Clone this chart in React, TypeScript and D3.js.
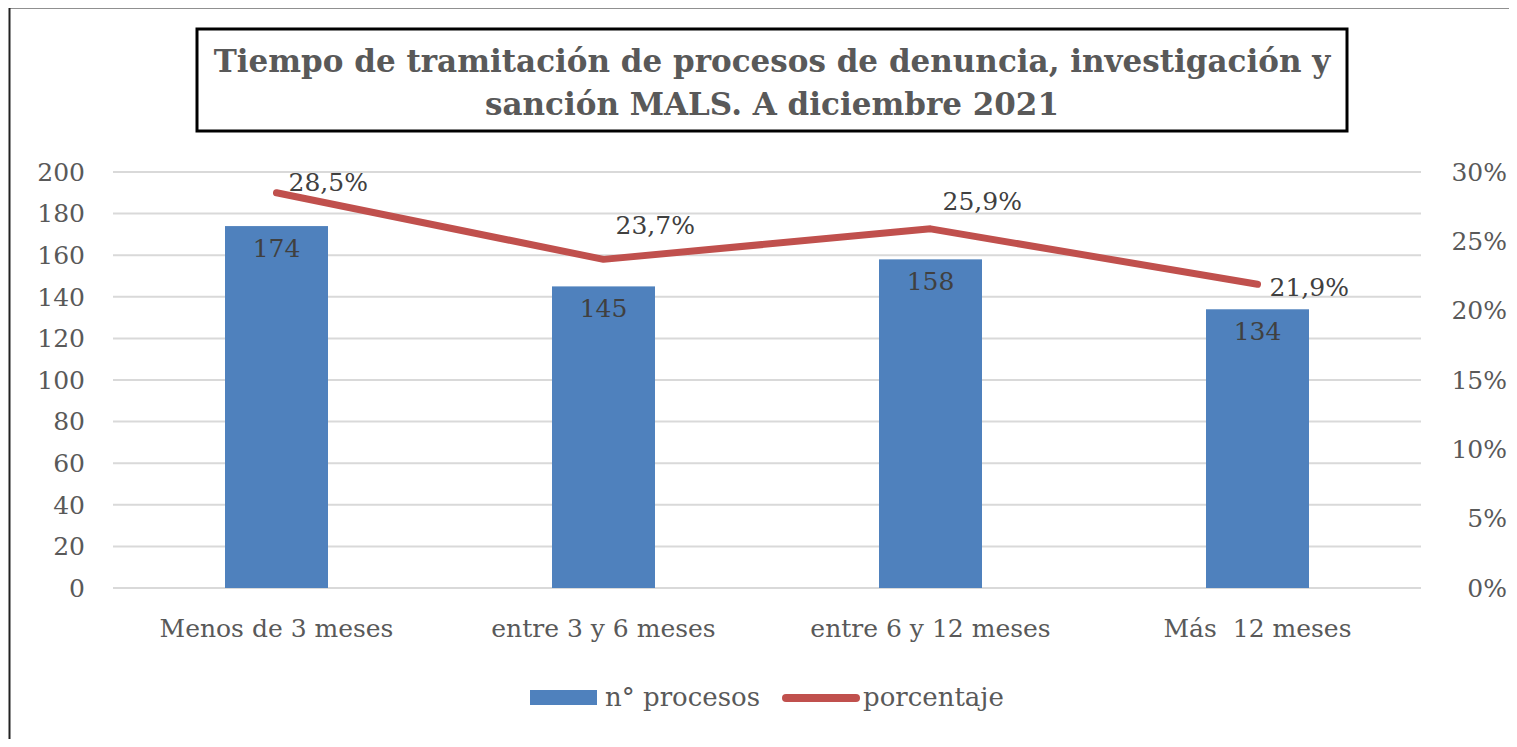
import { useEffect, useRef } from "react";
import * as d3 from "d3";

const categories = ["Menos de 3 meses", "entre 3 y 6 meses", "entre 6 y 12 meses", "Más  12 meses"];
const procesos = [174, 145, 158, 134];
const porcentaje = [0.285, 0.237, 0.259, 0.219];
const porcentajeLabels = ["28,5%", "23,7%", "25,9%", "21,9%"];
// vertical nudge of each line label, relative to its point (as Excel placed them)
const labelShift = [-11, -34, -28, 3];
const leftTicks = [0, 20, 40, 60, 80, 100, 120, 140, 160, 180, 200];
const rightTicks = [0, 0.05, 0.1, 0.15, 0.2, 0.25, 0.3];
const titleLines = [
  "Tiempo de tramitación de procesos de denuncia, investigación y",
  "sanción MALS. A diciembre 2021",
];

const W = 1517;
const H = 747;
const FONT = "'DejaVu Serif', 'Liberation Serif', serif";

const App = () => {
  const ref = useRef<SVGSVGElement>(null);

  useEffect(() => {
    const svg = d3.select(ref.current);
    svg.selectAll("*").remove();

    const left = 113, right = 1421, top = 172, bottom = 588;

    const x = d3.scaleBand().domain(categories).range([left, right]);
    const y = d3.scaleLinear().domain([0, 200]).range([bottom, top]);
    const y2 = d3.scaleLinear().domain([0, 0.3]).range([bottom, top]);
    const barW = 103;

    // outer frame
    svg.append("rect").attr("x", 9.5).attr("y", 7.5).attr("width", W + 20).attr("height", H + 20)
      .attr("fill", "white").attr("stroke", "#222").attr("stroke-width", 2);

    // title box
    svg.append("rect").attr("x", 197).attr("y", 29).attr("width", 1150).attr("height", 102)
      .attr("fill", "white").attr("stroke", "black").attr("stroke-width", 3);
    svg.append("g").selectAll("text").data(titleLines).join("text")
      .attr("x", 772).attr("y", (d, i) => 72 + i * 43)
      .attr("text-anchor", "middle").attr("font-family", FONT).attr("font-weight", "bold")
      .attr("font-size", 31).attr("fill", "#595959").text((d) => d);

    // grid
    svg.append("g").selectAll("line").data(leftTicks).join("line")
      .attr("x1", left).attr("x2", right).attr("y1", (d) => y(d)).attr("y2", (d) => y(d))
      .attr("stroke", "#d9d9d9").attr("stroke-width", 2);

    // left axis labels
    svg.append("g").selectAll("text").data(leftTicks).join("text")
      .attr("x", 85).attr("y", (d) => y(d)).attr("dy", "0.35em").attr("text-anchor", "end")
      .attr("font-family", FONT).attr("font-size", 25).attr("fill", "#595959").text((d) => d);

    // right axis labels
    svg.append("g").selectAll("text").data(rightTicks).join("text")
      .attr("x", 1507).attr("y", (d) => y2(d)).attr("dy", "0.35em").attr("text-anchor", "end")
      .attr("font-family", FONT).attr("font-size", 25).attr("fill", "#595959")
      .text((d) => d3.format(".0%")(d));

    // bars
    svg.append("g").selectAll("rect").data(procesos).join("rect")
      .attr("x", (d, i) => x(categories[i])! + x.bandwidth() / 2 - barW / 2)
      .attr("y", (d) => y(d)).attr("width", barW).attr("height", (d) => bottom - y(d))
      .attr("fill", "#4f81bd");

    svg.append("g").selectAll("text").data(procesos).join("text")
      .attr("x", (d, i) => x(categories[i])! + x.bandwidth() / 2)
      .attr("y", (d) => y(d) + 22).attr("dy", "0.35em").attr("text-anchor", "middle")
      .attr("font-family", FONT).attr("font-size", 25).attr("fill", "#404040").text((d) => d);

    // line
    const line = d3.line<number>()
      .x((d, i) => x(categories[i])! + x.bandwidth() / 2)
      .y((d) => y2(d));
    svg.append("path").datum(porcentaje).attr("d", line).attr("fill", "none")
      .attr("stroke", "#c0504d").attr("stroke-width", 7).attr("stroke-linecap", "round")
      .attr("stroke-linejoin", "round");

    svg.append("g").selectAll("text").data(porcentaje).join("text")
      .attr("x", (d, i) => x(categories[i])! + x.bandwidth() / 2 + 12)
      .attr("y", (d, i) => y2(d) + labelShift[i]).attr("dy", "0.35em")
      .attr("font-family", FONT).attr("font-size", 25).attr("fill", "#404040")
      .text((d, i) => porcentajeLabels[i]);

    // x labels
    svg.append("g").selectAll("text").data(categories).join("text")
      .attr("x", (d) => x(d)! + x.bandwidth() / 2).attr("y", 628).attr("dy", "0.35em")
      .attr("text-anchor", "middle").attr("font-family", FONT).attr("font-size", 25)
      .attr("fill", "#595959").style("white-space", "pre").text((d) => d);

    // legend
    const lg = svg.append("g");
    lg.append("rect").attr("x", 530).attr("y", 690).attr("width", 67).attr("height", 15).attr("fill", "#4f81bd");
    lg.append("text").attr("x", 605).attr("y", 697).attr("dy", "0.35em").attr("font-family", FONT)
      .attr("font-size", 26).attr("fill", "#595959").text("n° procesos");
    lg.append("line").attr("x1", 786).attr("x2", 856).attr("y1", 698).attr("y2", 698)
      .attr("stroke", "#c0504d").attr("stroke-width", 8).attr("stroke-linecap", "round");
    lg.append("text").attr("x", 863).attr("y", 697).attr("dy", "0.35em").attr("font-family", FONT)
      .attr("font-size", 26).attr("fill", "#595959").text("porcentaje");
  }, []);

  return (
    <div style={{ margin: -8 }}>
      <svg ref={ref} width={W} height={H} style={{ display: "block" }}></svg>
    </div>
  );
};

export default App;
